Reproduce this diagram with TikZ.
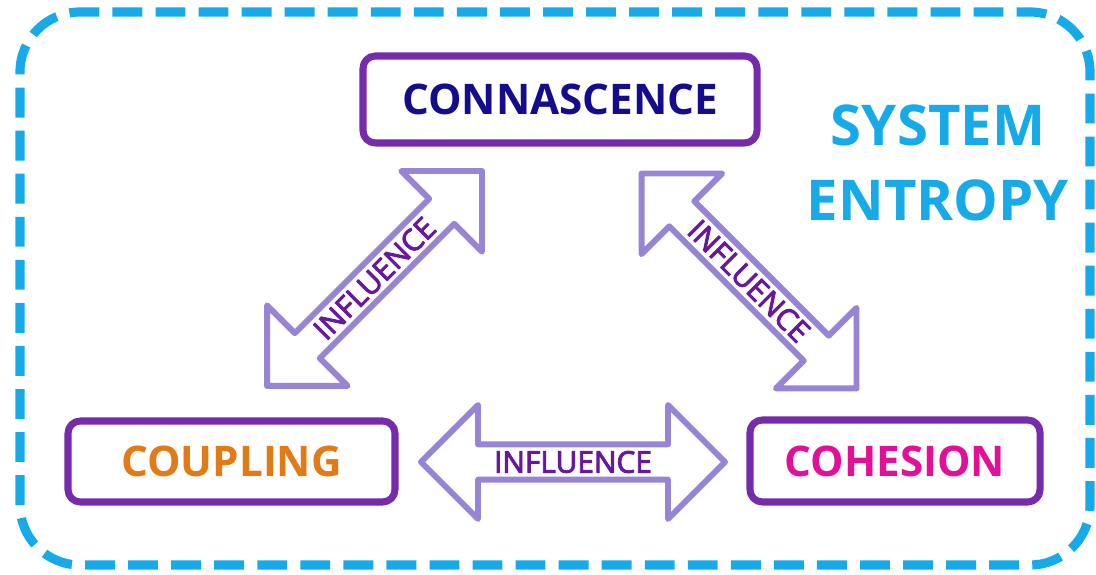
\documentclass[tikz,border=0pt]{standalone}
\usepackage{fontspec}
\setmainfont{Open Sans}
\newfontfamily\infont{Open Sans}[FakeBold=3]
\usetikzlibrary{shapes.arrows}
\definecolor{entropy}{RGB}{22,170,232}
\definecolor{boxpurple}{RGB}{118,42,172}
\definecolor{arrowlilac}{RGB}{152,132,212}
\definecolor{influence}{RGB}{104,24,156}
\definecolor{connblue}{RGB}{20,12,140}
\definecolor{coupleorange}{RGB}{226,122,22}
\definecolor{cohpink}{RGB}{226,16,152}
\begin{document}
\begin{tikzpicture}[line join=round,
	box/.style={draw=boxpurple,line width=4pt,rounded corners=7pt,fill=white,inner sep=0pt,font=\fontsize{24}{28}\selectfont\bfseries},
	twoway/.style={double arrow,draw=arrowlilac,line width=3.4pt,fill=white,double arrow tip angle=90,double arrow head extend=0.62cm,minimum width=2.28cm,minimum height=6.08cm,inner sep=0pt,text=influence,font=\fontsize{17}{20}\infont}]
	\useasboundingbox (0,0) rectangle (21.92,11.5);
	%% dashed border of the system
	\draw[entropy,line width=5.2pt,dash pattern=on 17pt off 7.5pt,rounded corners=1.2cm] (0.4,0.2) rectangle (21.8,11.26);
	\node[text=entropy,align=center,font=\fontsize{32}{42.5}\selectfont\bfseries] (sys) at (18.76,8.24) {SYSTEM\\ENTROPY};
	%% the three boxes
	\node[box,minimum width=7.88cm,minimum height=1.74cm,text=connblue] (conn) at (11.2,9.51) {CONNASCENCE};
	\node[box,minimum width=6.54cm,minimum height=1.62cm,text=coupleorange] (coup) at (4.63,2.27) {COUPLING\hspace{0.3cm}};
	\node[box,minimum width=5.8cm,minimum height=1.64cm,text=cohpink] (coh) at (17.9,2.28) {COHESION};
	%% two-way influence arrows
	\node[twoway,rotate=45] (ccoup) at (7.49,5.93) {INFLUENCE};
	\node[twoway,rotate=-45] (ccoh) at (14.98,5.88) {INFLUENCE};
	\node[twoway] (coupcoh) at (11.46,2.26) {INFLUENCE};
\end{tikzpicture}
\end{document}
